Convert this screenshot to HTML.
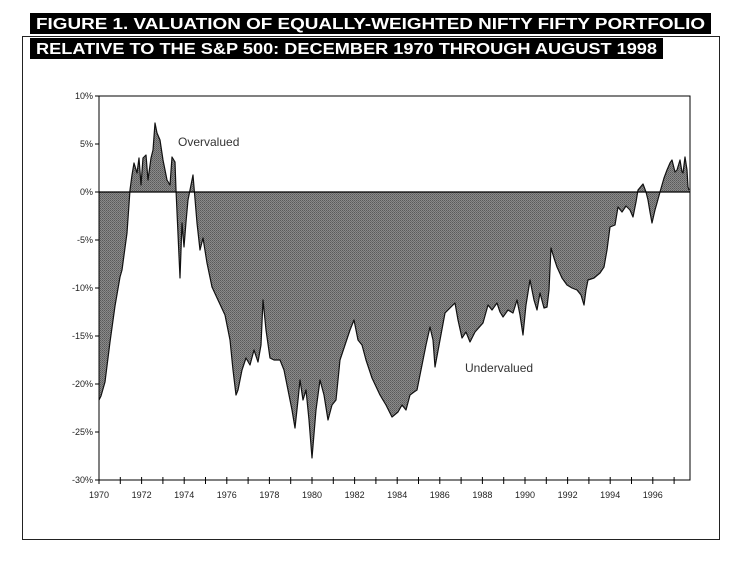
<!DOCTYPE html>
<html><head><meta charset="utf-8"><style>
html,body{margin:0;padding:0;background:#fff;}
svg{display:block;}
</style></head><body>
<svg width="753" height="565" viewBox="0 0 753 565" xmlns="http://www.w3.org/2000/svg" font-family="Liberation Sans, sans-serif">
<defs>
<pattern id="dots" width="2" height="2" patternUnits="userSpaceOnUse">
<rect width="2" height="2" fill="#8a8a8a"/>
<rect width="1" height="1" fill="#5a5a5a"/>
<rect x="1" y="1" width="1" height="1" fill="#6a6a6a"/>
</pattern>
</defs>
<!-- outer frame -->
<rect x="22.5" y="36.5" width="697" height="503" fill="none" stroke="#222" stroke-width="1"/>
<!-- titles -->
<rect x="30" y="13" width="681" height="21" fill="#000"/>
<text x="36" y="29" fill="#fff" font-size="16" font-weight="bold" textLength="669" lengthAdjust="spacingAndGlyphs">FIGURE 1. VALUATION OF EQUALLY-WEIGHTED NIFTY FIFTY PORTFOLIO</text>
<rect x="30" y="38" width="633" height="21" fill="#000"/>
<text x="36" y="54" fill="#fff" font-size="16" font-weight="bold" textLength="621" lengthAdjust="spacingAndGlyphs">RELATIVE TO THE S&amp;P 500: DECEMBER 1970 THROUGH AUGUST 1998</text>
<!-- plot -->
<path id="area" fill="url(#dots)" stroke="none" d=""/>
<path id="line" fill="none" stroke="#111" stroke-width="1.2" stroke-linejoin="round" d=""/>
<line x1="99" y1="192" x2="690" y2="192" stroke="#000" stroke-width="1.2"/>
<rect x="99" y="96" width="591" height="384" fill="none" stroke="#000" stroke-width="1"/>
<g id="yt" font-size="9" fill="#222" text-anchor="end"></g>
<g id="xt" font-size="9" fill="#222" text-anchor="middle"></g>
<text x="178" y="146" font-size="12" fill="#333">Overvalued</text>
<text x="465" y="372" font-size="12" fill="#333">Undervalued</text>
</svg>
<script>
var pts=[[99,400],[101,396],[105,382],[110,342],[115,306],[120,277],[122,270],[127,233],[130,190],[132,175],[134,163],[137,173],[139,158],[141,185],[143,158],[146,155],[148,180],[151,158],[153,150],[155,123],[157,133],[160,140],[163,160],[167,180],[170,185],[172,157],[175,162],[176,190],[180,278],[182,223],[184,247],[186,222],[188,200],[193,175],[197,223],[200,250],[203,238],[207,263],[212,287],[218,300],[225,315],[230,340],[233,370],[236,395],[238,390],[242,370],[246,358],[250,365],[254,350],[258,362],[261,345],[263,300],[266,330],[270,358],[274,360],[280,360],[284,370],[288,390],[292,410],[295,428],[298,400],[300,380],[303,400],[306,390],[309,420],[312,458],[316,410],[320,380],[324,395],[328,420],[332,405],[336,400],[340,360],[345,345],[350,330],[354,320],[358,340],[362,345],[366,360],[372,378],[380,395],[386,405],[392,417],[398,412],[402,405],[406,410],[410,395],[414,392],[417,390],[422,365],[426,345],[430,327],[433,340],[435,367],[440,340],[445,313],[450,308],[455,303],[458,320],[462,338],[466,332],[470,342],[475,332],[483,323],[488,305],[492,310],[497,303],[500,312],[503,317],[508,310],[513,313],[517,300],[520,315],[523,335],[526,305],[530,280],[534,300],[537,310],[540,293],[544,308],[547,307],[549,290],[551,248],[554,258],[557,267],[562,278],[567,285],[572,288],[577,290],[581,295],[584,305],[586,290],[588,280],[594,278],[600,273],[604,267],[607,250],[610,227],[615,225],[618,207],[622,212],[626,206],[630,210],[633,217],[636,202],[638,190],[643,184],[646,192],[648,200],[650,212],[652,223],[655,210],[657,203],[660,192],[664,178],[667,170],[670,163],[672,160],[675,172],[677,170],[680,160],[682,172],[683,173],[685,157],[687,170],[688,187],[689,190]];
var d=pts.map(function(p,i){return (i?'L':'M')+p[0]+','+p[1];}).join(' ');
document.getElementById('line').setAttribute('d',d);
document.getElementById('area').setAttribute('d','M99,192 L'+d.slice(1)+' L690,192 Z');
var yt=document.getElementById('yt'),s='';
for(var v=10;v>=-30;v-=5){var y=192-v*9.6;s+='<text x="93" y="'+(y+3)+'">'+v+'%</text><line x1="95" y1="'+y+'" x2="99" y2="'+y+'" stroke="#000"/>';}
yt.innerHTML=s;
var xt=document.getElementById('xt');s='';
for(var yr=1970;yr<=1997;yr++){var x=99+21.3*(yr-1970);s+='<line x1="'+x+'" y1="477" x2="'+x+'" y2="484" stroke="#000"/>';if(yr%2==0&&yr<=1996)s+='<text x="'+x+'" y="498">'+yr+'</text>';}
xt.innerHTML=s;
</script>
</body></html>
